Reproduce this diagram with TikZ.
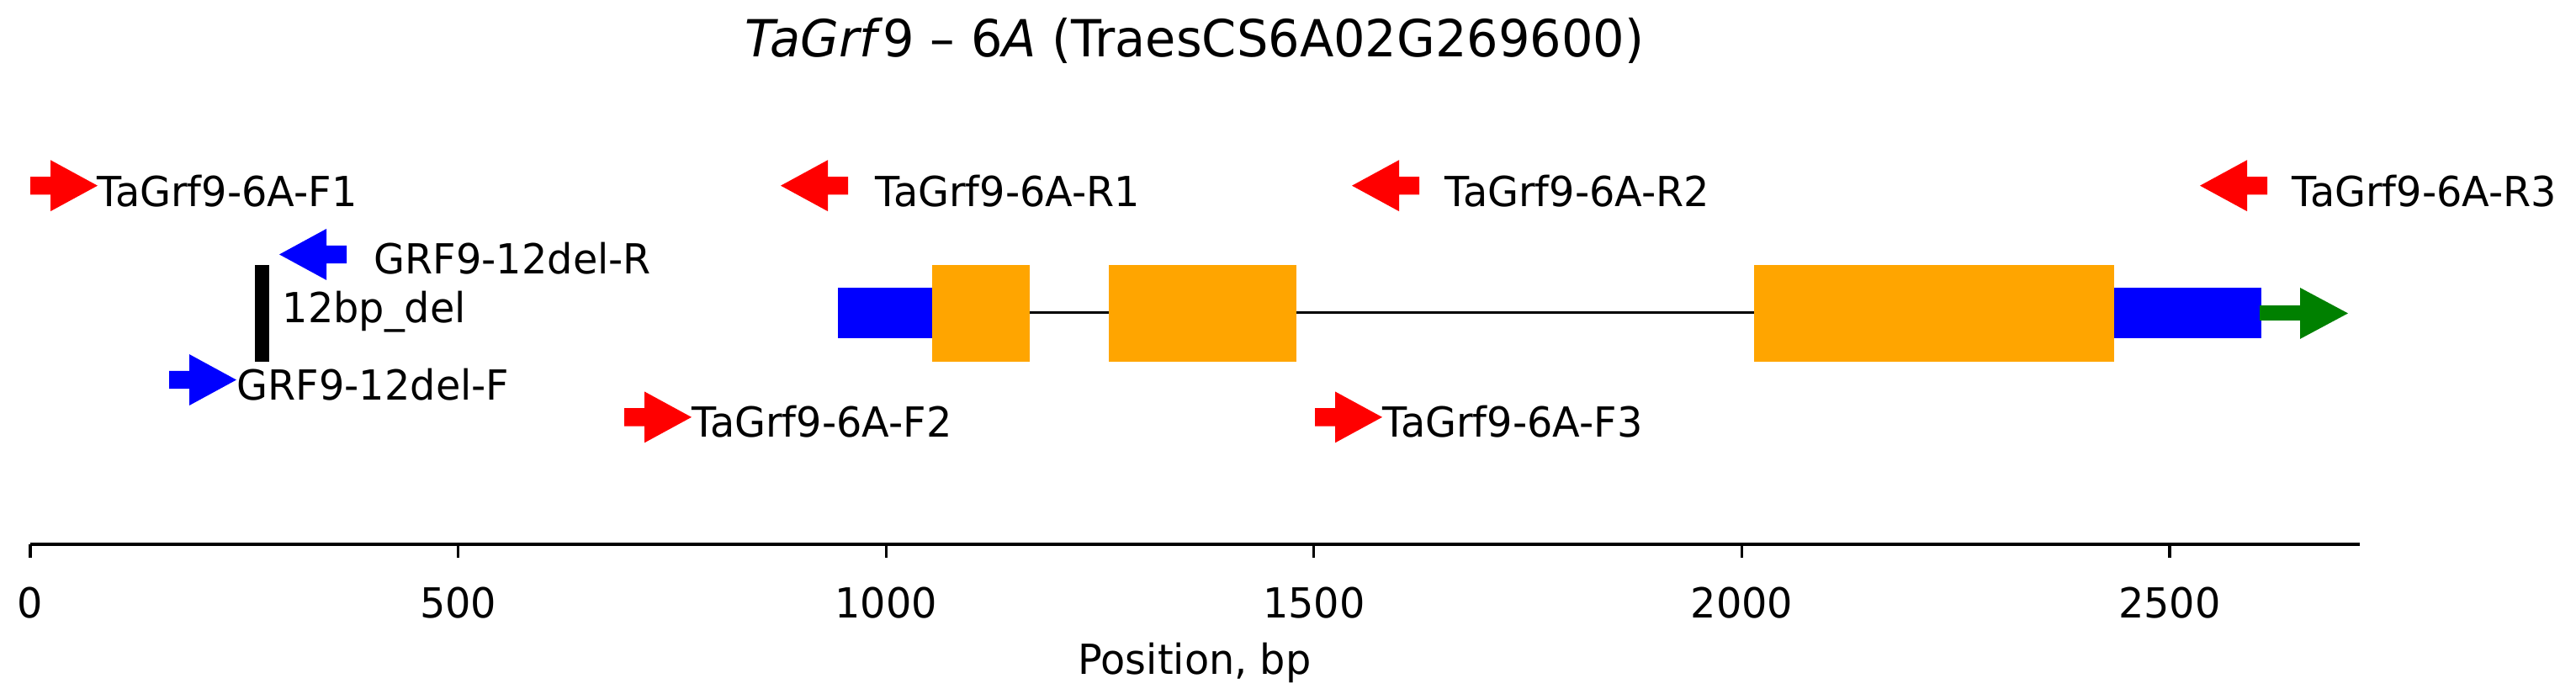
\documentclass[tikz,border=0pt]{standalone}
\usepackage{fontspec}
\setmainfont{DejaVu Sans}[FakeStretch=0.97]
\definecolor{orng}{HTML}{FFA500}
\definecolor{grn}{HTML}{008000}
\newcommand{\fwdarrow}[3]{\fill[#3] (#1,#2-20)--++(24,0)--++(0,-37)--++(56,57)--++(-56,57)--++(0,-37)--++(-24,0)--cycle;}
\newcommand{\revarrow}[3]{\fill[#3] (#1,#2)--++(56,-57)--++(0,37)--++(24,0)--++(0,40)--++(-24,0)--++(0,37)--cycle;}
\begin{document}
\begin{tikzpicture}[x=0.01cm,y=-0.005347cm,
  lbl/.style={anchor=base west,inner sep=0pt,font=\fontsize{14}{17}\selectfont},
  tick/.style={anchor=base,inner sep=0pt,font=\fontsize{14}{17}\selectfont}]
\useasboundingbox (0,0) rectangle (3062,1531.7);
\node[anchor=base,inner sep=0pt,font=\fontsize{17.3}{20}\selectfont] (title) at (1420,127) {\textit{TaGrf}9 -- 6\textit{A} (TraesCS6A02G269600)};
% gene
\draw[line width=0.9pt] (1053,695) coordinate (ls) -- (2583,695) coordinate (le);
\fill[blue] (996,640) rectangle (1108,752);
\fill[orng] (1108,589) rectangle (1224,804);
\fill[orng] (1318,589) rectangle (1541,804);
\fill[orng] (2085,589) rectangle (2513,804);
\fill[blue] (2513,640) rectangle (2688,752);
\fill[grn] (2686,679) rectangle (2736,713);
\fill[grn] (2734,640) -- (2791,697) -- (2734,754) -- cycle;
% deletion
\fill[black] (303,589) rectangle (320,804);
\node[lbl] (del) at (335,718) {12bp\_del};
% primers
\fwdarrow{36}{413}{red}
\node[lbl] (f1) at (115,459) {TaGrf9-6A-F1};
\revarrow{928}{413}{red}
\node[lbl] (r1) at (1040,459) {TaGrf9-6A-R1};
\revarrow{1607}{413}{red}
\node[lbl] (r2) at (1717,459) {TaGrf9-6A-R2};
\revarrow{2615}{413}{red}
\node[lbl] (r3) at (2724,459) {TaGrf9-6A-R3};
\revarrow{332}{566}{blue}
\node[lbl] (dr) at (444,610) {GRF9-12del-R};
\fwdarrow{201}{845}{blue}
\node[lbl] (df) at (281,889) {GRF9-12del-F};
\fwdarrow{742}{928}{red}
\node[lbl] (f2) at (822,972) {TaGrf9-6A-F2};
\fwdarrow{1563}{928}{red}
\node[lbl] (f3) at (1643,972) {TaGrf9-6A-F3};
% axis
\draw[line width=1.2pt] (36,1211) coordinate (a0) -- (2805,1211) coordinate (a1);
\foreach \v in {0,500,1000,1500,2000,2500}{
  \draw[line width=0.9pt] ({36+1.0172*\v},1211) -- ++(0,30);
  \node[tick] (t\v) at ({36+1.0172*\v},1375) {\v};
}
\node[tick] (xl) at (1420,1500) {Position, bp};
\end{tikzpicture}
\end{document}
